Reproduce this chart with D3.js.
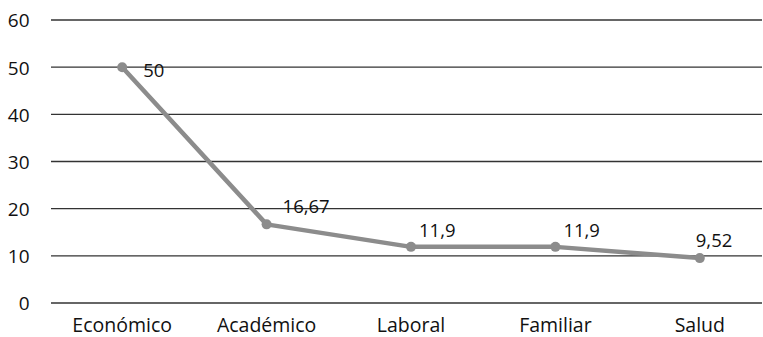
<!DOCTYPE html>
<html>
<head>
<meta charset="utf-8">
<script src="https://cdn.jsdelivr.net/npm/d3@7"></script>
<style>
  html, body { margin: 0; padding: 0; background: #fff; }
  svg { display: block; }
  text { font-family: "Open Sans", sans-serif; fill: #111; }
</style>
</head>
<body>
<svg id="chart" width="763" height="337"></svg>
<script>
// Motivos por categoría (porcentajes)
const categories = ["Económico", "Académico", "Laboral", "Familiar", "Salud"];
const values = [50, 16.67, 11.9, 11.9, 9.52];
const valueLabels = ["50", "16,67", "11,9", "11,9", "9,52"];
const yTicks = [0, 10, 20, 30, 40, 50, 60];

// Label offsets relative to each point (dx, dy in px)
const labelOffsets = [[21, 10], [16, -11], [8, -10], [8, -10], [-4, -11]];

const svg = d3.select("#chart");
const plotLeft = 51, plotRight = 762;

const x = d3.scaleBand().domain(categories).range([50, 772]).padding(0);
const y = d3.scaleLinear().domain([0, 60]).range([303, 20]);
const cx = d => x(d) + x.bandwidth() / 2;

// Horizontal gridlines
svg.append("g")
  .selectAll("line")
  .data(yTicks)
  .join("line")
  .attr("x1", plotLeft).attr("x2", plotRight)
  .attr("y1", d => y(d)).attr("y2", d => y(d))
  .attr("stroke", "#333")
  .attr("stroke-width", 1.4);

// Y axis labels
const yAxis = d3.axisLeft(y).tickValues(yTicks).tickSize(0).tickPadding(0);
const yg = svg.append("g").attr("transform", "translate(29.5,0)").call(yAxis);
yg.select(".domain").remove();
yg.selectAll("text")
  .attr("font-size", 19)
  .attr("font-family", "'Open Sans', sans-serif")
  .attr("fill", "#111")
  .attr("dy", "0.36em");

// X axis labels
const xAxis = d3.axisBottom(x).tickSize(0).tickPadding(0);
const xg = svg.append("g").attr("transform", "translate(0,318)").call(xAxis);
xg.select(".domain").remove();
xg.selectAll("text")
  .attr("font-size", 19.5)
  .attr("font-family", "'Open Sans', sans-serif")
  .attr("fill", "#111")
  .attr("dy", "0.7em");

const data = categories.map((c, i) => ({ c, v: values[i], label: valueLabels[i], off: labelOffsets[i] }));

// Series line
const line = d3.line().x(d => cx(d.c)).y(d => y(d.v));
svg.append("path")
  .datum(data)
  .attr("d", line)
  .attr("fill", "none")
  .attr("stroke", "#8c8c8c")
  .attr("stroke-width", 4.5)
  .attr("stroke-linejoin", "round");

// Markers
svg.append("g")
  .selectAll("circle")
  .data(data)
  .join("circle")
  .attr("cx", d => cx(d.c))
  .attr("cy", d => y(d.v))
  .attr("r", 5)
  .attr("fill", "#8c8c8c");

// Value labels
svg.append("g")
  .selectAll("text")
  .data(data)
  .join("text")
  .attr("x", d => cx(d.c) + d.off[0])
  .attr("y", d => y(d.v) + d.off[1])
  .attr("font-size", 18.5)
  .text(d => d.label);
</script>
</body>
</html>
